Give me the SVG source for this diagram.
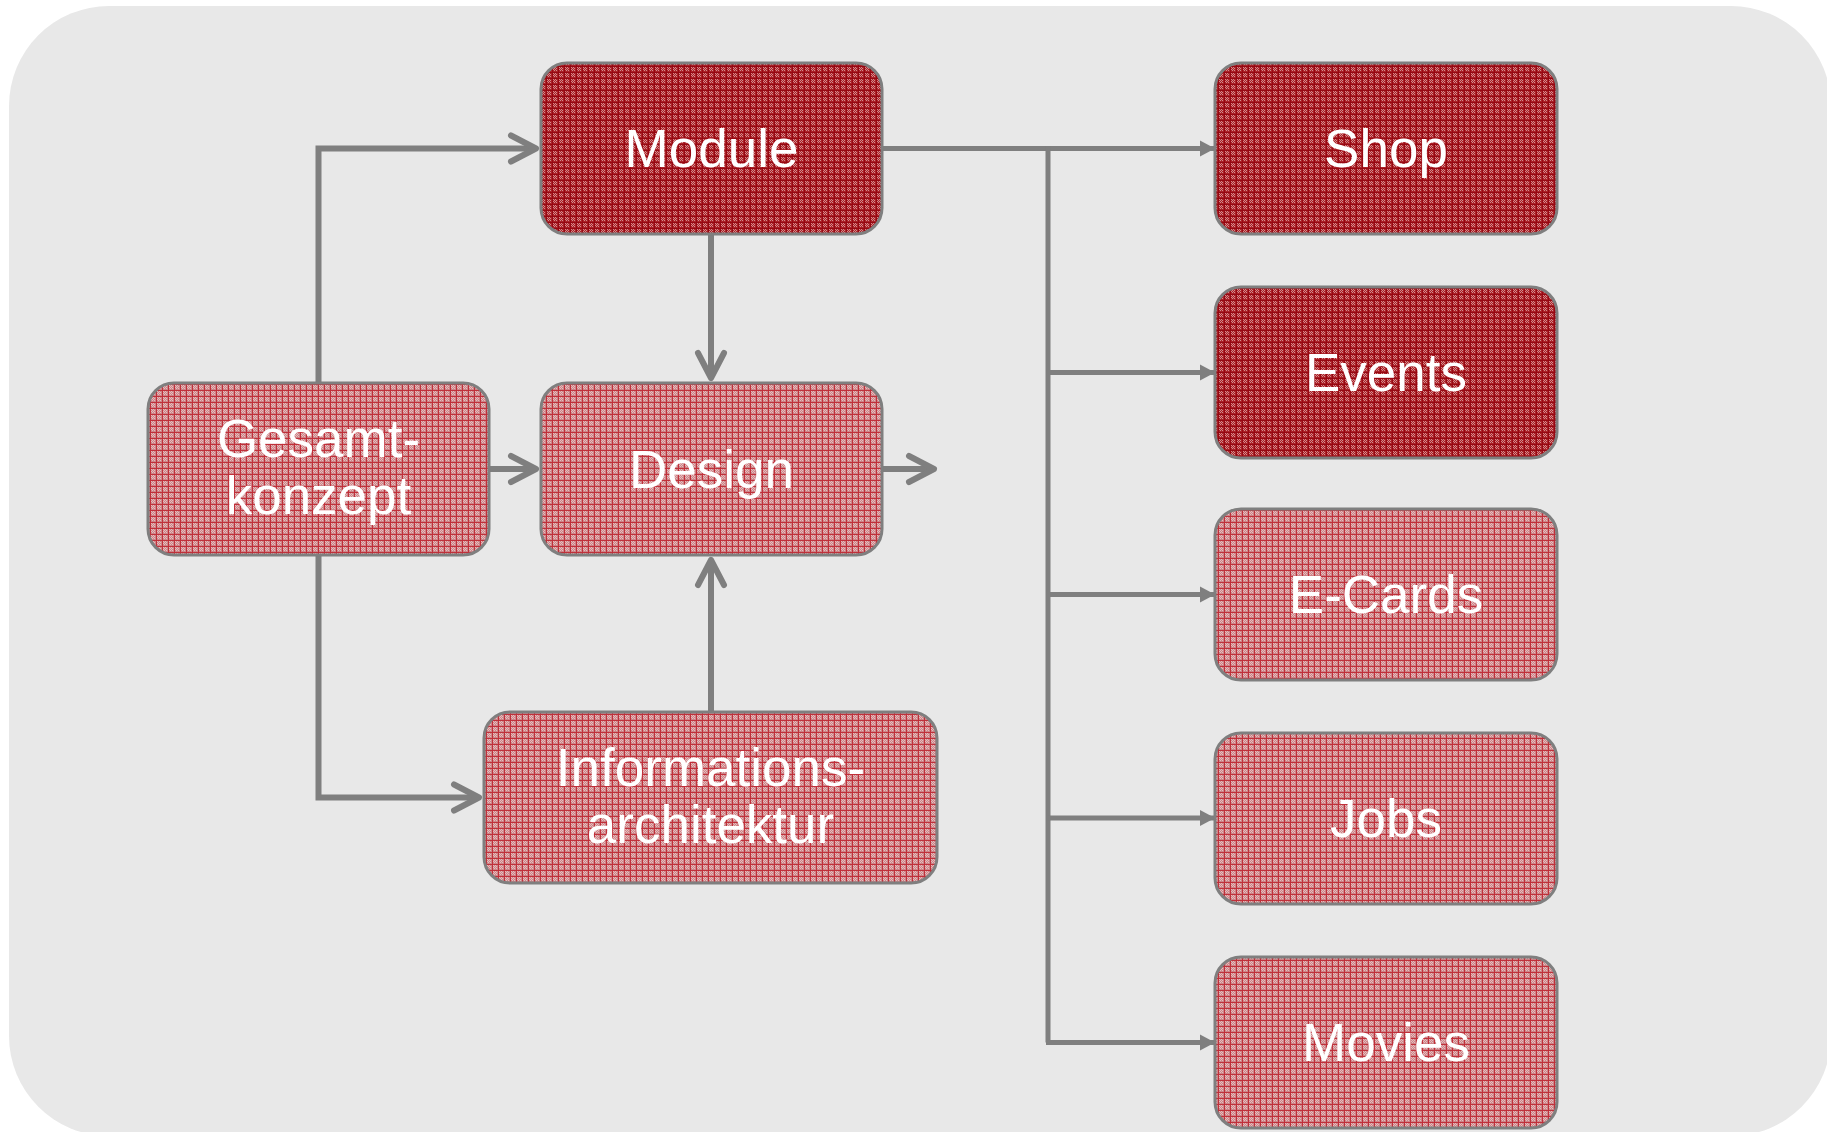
<svg xmlns="http://www.w3.org/2000/svg" width="1827" height="1132" viewBox="0 0 1827 1132">
  <defs>
    <!-- woven fill for the highlighted (dark) boxes -->
    <pattern id="weaveDark" width="6" height="6" patternUnits="userSpaceOnUse">
      <rect width="6" height="6" fill="#aa2228"/>
      <rect x="1" y="1" width="1" height="1" fill="#d48a8c"/>
      <rect x="3" y="1" width="1" height="1" fill="#d48a8c"/>
      <rect x="2" y="2" width="1" height="1" fill="#d48a8c"/>
      <rect x="4" y="2" width="1" height="1" fill="#d48a8c"/>
      <rect x="1" y="3" width="1" height="1" fill="#d48a8c"/>
      <rect x="3" y="3" width="1" height="1" fill="#d48a8c"/>
      <rect x="2" y="4" width="1" height="1" fill="#d48a8c"/>
      <rect x="4" y="4" width="1" height="1" fill="#d48a8c"/>
      <rect x="0" y="0" width="6" height="1" fill="#960812"/>
      <rect x="0" y="0" width="1" height="6" fill="#960812"/>
    </pattern>
    <!-- woven fill for the light boxes -->
    <pattern id="weaveLight" width="6" height="6" patternUnits="userSpaceOnUse">
      <rect width="6" height="6" fill="#cd8488"/>
      <rect x="1" y="1" width="1" height="1" fill="#e6bcbd"/>
      <rect x="3" y="1" width="1" height="1" fill="#e6bcbd"/>
      <rect x="2" y="2" width="1" height="1" fill="#e6bcbd"/>
      <rect x="4" y="2" width="1" height="1" fill="#e6bcbd"/>
      <rect x="1" y="3" width="1" height="1" fill="#e6bcbd"/>
      <rect x="3" y="3" width="1" height="1" fill="#e6bcbd"/>
      <rect x="2" y="4" width="1" height="1" fill="#e6bcbd"/>
      <rect x="4" y="4" width="1" height="1" fill="#e6bcbd"/>
      <rect x="0" y="0" width="6" height="1" fill="#c0303a"/>
      <rect x="0" y="0" width="1" height="6" fill="#c0303a"/>
    </pattern>
    <marker id="tri" markerUnits="userSpaceOnUse" markerWidth="16" markerHeight="18" refX="15" refY="9" orient="auto" overflow="visible">
      <path d="M0,1 L15,9 L0,17 Z" fill="#7f7f7f"/>
    </marker>
    <marker id="chev" markerUnits="userSpaceOnUse" markerWidth="34" markerHeight="32" refX="28" refY="16" orient="auto" overflow="visible">
      <path d="M3,3 L28,16 L3,29" fill="none" stroke="#7f7f7f" stroke-width="6" stroke-linecap="round" stroke-linejoin="round"/>
    </marker>
    <style>
      .box { stroke: #7f7f7f; stroke-width: 3; }
      .dark { fill: url(#weaveDark); }
      .light { fill: url(#weaveLight); }
      .lbl { font-family: "Liberation Sans", Arial, sans-serif; font-size: 53px; fill: #ffffff; text-anchor: middle; }
      .wire { fill: none; stroke: #7f7f7f; stroke-width: 5; }
      .flow { fill: none; stroke: #7f7f7f; stroke-width: 6; }
    </style>
  </defs>

  <!-- backdrop -->
  <rect x="9" y="6" width="1822" height="1130" rx="100" ry="100" fill="#e8e8e8"/>

  <g id="connectors">
    <!-- module branches to the feature boxes -->
    <path class="wire" d="M882,148.5 H1215" marker-end="url(#tri)"/>
    <path class="wire" d="M1048,146 V1042.5"/>
    <path class="wire" d="M1048,372.5 H1215" marker-end="url(#tri)"/>
    <path class="wire" d="M1048,594.5 H1215" marker-end="url(#tri)"/>
    <path class="wire" d="M1048,818 H1215" marker-end="url(#tri)"/>
    <path class="wire" d="M1046,1042.5 H1215" marker-end="url(#tri)"/>
    <!-- concept flow -->
    <path class="flow" d="M318.5,383 V148.5 H536" marker-end="url(#chev)"/>
    <path class="flow" d="M489,469 H536" marker-end="url(#chev)"/>
    <path class="flow" d="M318.5,555 V797.5 H479" marker-end="url(#chev)"/>
    <path class="flow" d="M711,234 V378" marker-end="url(#chev)"/>
    <path class="flow" d="M711,712 V560" marker-end="url(#chev)"/>
    <path class="flow" d="M882,469 H934" marker-end="url(#chev)"/>
  </g>

  <g id="module">
    <rect class="box dark" x="541" y="63" width="341" height="171" rx="26"/>
    <text class="lbl" x="711.5" y="167">Module</text>
  </g>
  <g id="gesamtkonzept">
    <rect class="box light" x="148" y="383" width="341" height="172" rx="26"/>
    <text class="lbl" x="318.5" y="457">Gesamt-</text>
    <text class="lbl" x="318.5" y="514">konzept</text>
  </g>
  <g id="design">
    <rect class="box light" x="541" y="383" width="341" height="172" rx="26"/>
    <text class="lbl" x="711.5" y="488">Design</text>
  </g>
  <g id="informationsarchitektur">
    <rect class="box light" x="484" y="712" width="453" height="171" rx="26"/>
    <text class="lbl" x="710.5" y="786">Informations-</text>
    <text class="lbl" x="710.5" y="843">architektur</text>
  </g>
  <g id="shop">
    <rect class="box dark" x="1215" y="63" width="342" height="171" rx="26"/>
    <text class="lbl" x="1386" y="167">Shop</text>
  </g>
  <g id="events">
    <rect class="box dark" x="1215" y="287" width="342" height="171" rx="26"/>
    <text class="lbl" x="1386" y="391">Events</text>
  </g>
  <g id="ecards">
    <rect class="box light" x="1215" y="509" width="342" height="171" rx="26"/>
    <text class="lbl" x="1386" y="613">E-Cards</text>
  </g>
  <g id="jobs">
    <rect class="box light" x="1215" y="733" width="342" height="171" rx="26"/>
    <text class="lbl" x="1386" y="837">Jobs</text>
  </g>
  <g id="movies">
    <rect class="box light" x="1215" y="957" width="342" height="171" rx="26"/>
    <text class="lbl" x="1386" y="1061">Movies</text>
  </g>
</svg>
